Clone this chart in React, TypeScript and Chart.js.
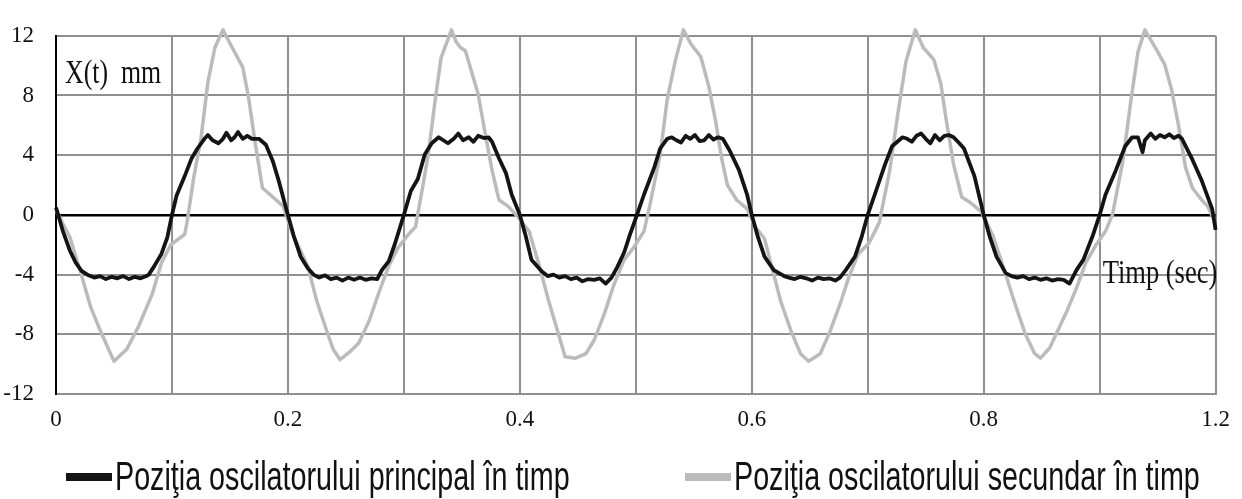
import React, { useEffect, useRef } from "react";
import { Chart, registerables } from "chart.js";

Chart.register(...registerables);

// ---------------- data ----------------
const X_TICK_LABELS = ["0", "0.2", "0.4", "0.6", "0.8", "1.2"];
const SERIES_LABELS = [
  "Poziţia oscilatorului principal în timp",
  "Poziţia oscilatorului secundar în timp",
];
const Y_TITLE = "X(t)  mm";
const X_TITLE = "Timp (sec)";

const T_PRINCIPAL = [
  0.0, 0.006, 0.012, 0.017, 0.022, 0.028, 0.033, 0.038, 0.043, 0.048, 0.053, 0.058, 0.063, 0.068, 0.073, 0.078,
  0.08, 0.085, 0.091, 0.096, 0.1, 0.104, 0.111, 0.117, 0.122, 0.128, 0.131, 0.135, 0.14, 0.144, 0.147, 0.151,
  0.154, 0.157, 0.161, 0.165, 0.169, 0.175, 0.178, 0.181, 0.187, 0.192, 0.198, 0.2,
  0.205, 0.211, 0.217, 0.222, 0.227, 0.232, 0.237, 0.242, 0.247, 0.252, 0.257, 0.262, 0.267, 0.272, 0.277,
  0.281, 0.287, 0.292, 0.3, 0.306, 0.312, 0.318, 0.324, 0.33, 0.334, 0.338, 0.343, 0.347, 0.351, 0.356, 0.36,
  0.364, 0.369, 0.373, 0.376, 0.382, 0.388, 0.393, 0.4,
  0.405, 0.41, 0.419, 0.424, 0.429, 0.434, 0.439, 0.444, 0.449, 0.454, 0.459, 0.464, 0.469, 0.474, 0.479,
  0.484, 0.49, 0.495, 0.501, 0.507, 0.516, 0.521, 0.527, 0.531, 0.535, 0.539, 0.543, 0.547, 0.551, 0.555,
  0.559, 0.563, 0.567, 0.571, 0.575, 0.581, 0.589, 0.596, 0.6,
  0.605, 0.611, 0.619, 0.628, 0.632, 0.637, 0.642, 0.647, 0.652, 0.657, 0.662, 0.667, 0.672, 0.676, 0.681,
  0.689, 0.695, 0.7, 0.706, 0.715, 0.721, 0.73, 0.734, 0.738, 0.742, 0.746, 0.75, 0.754, 0.758, 0.762, 0.766,
  0.77, 0.774, 0.779, 0.783, 0.792, 0.8,
  0.805, 0.811, 0.819, 0.824, 0.829, 0.834, 0.839, 0.844, 0.849, 0.854, 0.859, 0.864, 0.869, 0.874, 0.88,
  0.886, 0.894, 0.9, 0.905, 0.914, 0.922, 0.928, 0.933, 0.937, 0.939, 0.944, 0.948, 0.952, 0.956, 0.96,
  0.964, 0.968, 0.971, 0.98, 0.988, 0.997, 1.0,
];
const X_PRINCIPAL = [
  0.5, -1.1, -2.4, -3.2, -3.75, -4.05, -4.2, -4.1, -4.3, -4.15, -4.25, -4.1, -4.3, -4.15, -4.25, -4.1,
  -4.0, -3.4, -2.6, -1.5, 0, 1.3, 2.6, 3.8, 4.45, 5.1, 5.35, 5.0, 4.8, 5.1, 5.5, 5.0,
  5.2, 5.55, 5.1, 5.3, 5.1, 5.1, 4.9, 4.7, 3.6, 2.3, 0.57, 0,
  -1.4, -2.8, -3.55, -4.0, -4.2, -4.05, -4.3, -4.2, -4.4, -4.2, -4.35, -4.2, -4.35, -4.25, -4.3,
  -3.7, -3.1, -2.0, 0, 1.6, 2.4, 4.05, 4.8, 5.2, 5.0, 4.8, 5.1, 5.45, 5.0, 5.2, 4.9,
  5.3, 5.15, 5.2, 4.9, 3.8, 2.8, 1.35, 0,
  -1.4, -3.0, -3.8, -4.1, -4.0, -4.2, -4.1, -4.3, -4.2, -4.45, -4.3, -4.35, -4.25, -4.6, -4.2,
  -3.5, -2.5, -1.3, 0, 1.35, 3.2, 4.45, 5.1, 5.2, 5.0, 4.85, 5.3, 5.1, 5.35, 4.95,
  5.0, 5.35, 5.05, 5.2, 5.1, 4.3, 3.0, 1.35, 0,
  -1.4, -2.8, -3.7, -4.1, -4.2, -4.3, -4.15, -4.25, -4.4, -4.2, -4.3, -4.25, -4.4, -4.2, -3.7,
  -2.8, -1.4, 0, 1.35, 3.4, 4.6, 5.2, 5.1, 4.9, 5.3, 5.45, 5.1, 4.8, 5.35, 5.0, 5.3,
  5.35, 5.2, 4.8, 4.45, 2.6, 0,
  -1.4, -2.8, -3.9, -4.1, -4.2, -4.1, -4.3, -4.2, -4.35, -4.25, -4.4, -4.3, -4.35, -4.6, -3.7,
  -3.0, -1.4, 0, 1.35, 3.0, 4.6, 5.2, 5.2, 4.2, 5.0, 5.45, 5.1, 5.35, 5.2, 5.4,
  5.15, 5.3, 5.1, 3.7, 2.3, 0.4, -1.0,
];

const T_SECUNDAR = [
  0.0, 0.012, 0.022, 0.03, 0.039, 0.05, 0.061, 0.071, 0.083, 0.091, 0.099, 0.111, 0.113, 0.119, 0.125, 0.131,
  0.137, 0.144, 0.152, 0.161, 0.166, 0.172, 0.178, 0.187, 0.196, 0.204,
  0.217, 0.225, 0.234, 0.239, 0.245, 0.253, 0.261, 0.27, 0.278, 0.287, 0.295, 0.304, 0.31, 0.315, 0.321,
  0.327, 0.332, 0.341, 0.345, 0.349, 0.353, 0.358, 0.364, 0.37, 0.376, 0.382, 0.39, 0.399,
  0.408, 0.416, 0.425, 0.433, 0.439, 0.448, 0.457, 0.464, 0.473, 0.481, 0.49, 0.498, 0.507, 0.512, 0.521,
  0.527, 0.534, 0.541, 0.548, 0.556, 0.563, 0.569, 0.574, 0.579, 0.587, 0.596, 0.603,
  0.611, 0.619, 0.625, 0.634, 0.642, 0.649, 0.659, 0.667, 0.676, 0.684, 0.692, 0.701, 0.71, 0.719, 0.726,
  0.733, 0.741, 0.748, 0.757, 0.763, 0.768, 0.774, 0.781, 0.789, 0.798,
  0.808, 0.819, 0.828, 0.836, 0.844, 0.849, 0.857, 0.863, 0.872, 0.88, 0.888, 0.897, 0.905, 0.911, 0.92,
  0.927, 0.933, 0.939, 0.948, 0.956, 0.962, 0.968, 0.974, 0.98, 0.988, 0.993, 0.999,
];
const X_SECUNDAR = [
  0.3, -1.5, -4.05, -6.2, -7.9, -9.8, -9.0, -7.5, -5.3, -3.2, -2.0, -1.3, -0.5, 2.6, 5.1, 8.9,
  11.2, 12.4, 11.2, 9.9, 7.9, 4.7, 1.8, 1.2, 0.57, -1.3,
  -3.4, -5.8, -7.9, -9.0, -9.7, -9.2, -8.6, -7.1, -5.3, -3.4, -2.2, -1.3, -0.8, 1.35, 4.05,
  7.7, 10.5, 12.4, 11.6, 11.2, 11.0, 9.7, 8.1, 5.5, 3.0, 1.0, 0.57, -0.2,
  -1.1, -3.2, -5.8, -7.9, -9.5, -9.6, -9.3, -8.4, -6.6, -4.7, -3.0, -2.2, -1.1, 0.6, 4.05,
  7.7, 10.3, 12.4, 11.4, 10.6, 8.6, 6.2, 3.8, 2.0, 1.0, 0.4, -0.8,
  -1.6, -4.0, -5.8, -7.8, -9.3, -9.8, -9.3, -7.9, -6.0, -4.1, -2.6, -1.9, -0.5, 3.0, 6.8,
  10.3, 12.4, 11.2, 10.4, 8.8, 6.2, 3.4, 1.2, 0.8, 0.2,
  -1.4, -4.0, -6.2, -8.0, -9.3, -9.6, -8.9, -7.9, -6.4, -4.9, -3.2, -2.0, -1.1, 0, 3.6,
  7.7, 10.9, 12.4, 11.2, 10.1, 8.4, 6.0, 3.2, 1.8, 1.0, 0.6, -0.4,
];

// ---------------- drawing helpers ----------------
const GRID_COLOR = "#909090";
const SERIF = '"Liberation Serif", "Times New Roman", serif';
const SANS = '"Liberation Sans", Arial, sans-serif';

function drawScaledText(ctx: CanvasRenderingContext2D, text: string, x: number, y: number, sx: number) {
  ctx.save();
  ctx.translate(x, y);
  ctx.scale(sx, 1);
  ctx.fillText(text, 0, 0);
  ctx.restore();
}

const textPlugin = {
  id: "axisTextsAndLegend",
  afterDraw(chart: any) {
    const ctx: CanvasRenderingContext2D = chart.ctx;
    const a = chart.chartArea;
    ctx.save();
    ctx.fillStyle = "#111";
    ctx.textAlign = "left";
    ctx.textBaseline = "alphabetic";
    ctx.font = `34px ${SERIF}`;
    drawScaledText(ctx, Y_TITLE, a.left + 9, a.top + 47, 0.76);
    drawScaledText(ctx, X_TITLE, a.right - 113, a.top + 247, 0.78);

    // legend
    const ds = chart.data.datasets;
    const starts = [66, 685];
    const lineY = 477;
    const baseY = 490;
    ds.forEach((d: any, i: number) => {
      const x0 = starts[i];
      ctx.strokeStyle = d.borderColor;
      ctx.lineWidth = 8;
      ctx.lineCap = "butt";
      ctx.beginPath();
      ctx.moveTo(x0, lineY);
      ctx.lineTo(x0 + 46, lineY);
      ctx.stroke();
      ctx.fillStyle = "#111";
      ctx.font = `41px ${SANS}`;
      drawScaledText(ctx, d.label, x0 + 49, baseY, 0.7);
    });
    ctx.restore();
  },
};

export default function App() {
  const canvasRef = useRef<HTMLCanvasElement | null>(null);

  useEffect(() => {
    const canvas = canvasRef.current;
    if (!canvas) return;
    const chart = new Chart(canvas, {
      type: "line",
      data: {
        datasets: [
          {
            label: SERIES_LABELS[0],
            data: T_PRINCIPAL.map((t, i) => ({ x: t, y: X_PRINCIPAL[i] })),
            borderColor: "#141414",
            borderWidth: 3.8,
            pointRadius: 0,
            tension: 0,
            borderJoinStyle: "round",
            clip: false as any,
          },
          {
            label: SERIES_LABELS[1],
            data: T_SECUNDAR.map((t, i) => ({ x: t, y: X_SECUNDAR[i] })),
            borderColor: "#bbbbbb",
            borderWidth: 3.5,
            pointRadius: 0,
            tension: 0,
            borderJoinStyle: "round",
            clip: false as any,
          },
        ],
      },
      options: {
        animation: false,
        responsive: false,
        layout: { padding: { top: 14, right: 16, left: 0, bottom: 55 } },
        plugins: { legend: { display: false }, tooltip: { enabled: false } },
        scales: {
          x: {
            type: "linear",
            min: 0,
            max: 1,
            ticks: {
              stepSize: 0.1,
              autoSkip: false,
              maxRotation: 0,
              padding: 12,
              color: "#111",
              font: { family: SERIF, size: 23 },
              callback: (_v: any, i: number) => (i % 2 === 0 ? X_TICK_LABELS[i / 2] : ""),
            },
            grid: { color: GRID_COLOR, lineWidth: 2, drawTicks: false },
            border: { color: GRID_COLOR, width: 2 },
            afterFit: (s: any) => {
              s.height = 50;
            },
          },
          y: {
            min: -12,
            max: 12,
            ticks: {
              stepSize: 4,
              padding: 22,
              color: "#111",
              font: { family: SERIF, size: 23 },
            },
            grid: {
              color: (c: any) => (c.tick && c.tick.value === 0 ? "#000" : GRID_COLOR),
              lineWidth: (c: any) => (c.tick && c.tick.value === 0 ? 2.5 : 2),
              drawTicks: false,
            },
            border: { color: "#000", width: 2 },
            afterFit: (s: any) => {
              s.width = 56;
            },
          },
        },
      },
      plugins: [textPlugin],
    });
    return () => chart.destroy();
  }, []);

  return (
    <div style={{ position: "fixed", left: 0, top: 0, width: 1242, height: 499, background: "#fff" }}>
      <canvas ref={canvasRef} width={1242} height={499} style={{ display: "block", width: 1242, height: 499 }} />
    </div>
  );
}
